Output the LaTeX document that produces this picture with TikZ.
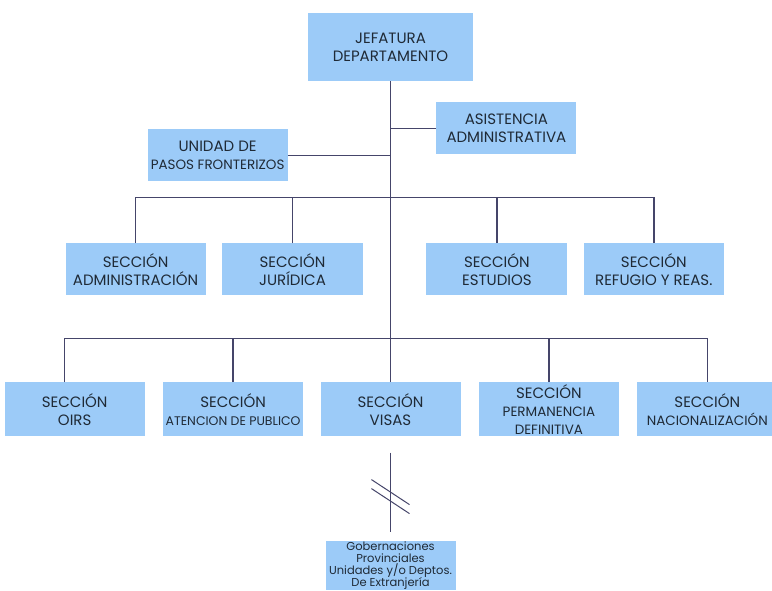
\documentclass[tikz,border=0pt]{standalone}
\usepackage{fontspec}
\setmainfont{Poppins}
\usetikzlibrary{positioning,calc}
\definecolor{boxblue}{HTML}{9CCBF8}
\definecolor{wire}{HTML}{45456A}
\definecolor{ink}{HTML}{1F2A36}
\newcommand{\lesser}[2]{{\fontsize{#1}{17}\selectfont #2}}
\tikzset{
  unit/.style={fill=boxblue, align=center, text=ink, inner sep=1pt,
               minimum width=140pt, minimum height=52pt, font=\fontsize{15}{18}\selectfont},
  link/.style={draw=wire, line width=1.4pt},
}

\begin{document}
\begin{tikzpicture}[x=1pt, y=-1pt]
    \useasboundingbox (0,0) rectangle (772,590);
    \node[unit, minimum width=165pt, minimum height=68pt] (jefe) at (390.5,47) {JEFATURA\\DEPARTAMENTO};
    \node[unit, below right=21pt and -37pt of jefe] (asis) {ASISTENCIA\\ADMINISTRATIVA};
    \node[unit, below left=48pt and 20pt of jefe] (unidad) {UNIDAD DE\\\lesser{13.5}{PASOS FRONTERIZOS}};

    \node[unit, below left=162pt and 102pt of jefe] (admin) {SECCIÓN\\ADMINISTRACIÓN};
    \node[unit, right=16pt of admin, minimum width=141pt] (jur) {SECCIÓN\\JURÍDICA};
    \node[unit, right=63pt of jur, minimum width=141pt] (est) {SECCIÓN\\ESTUDIOS};
    \node[unit, right=16pt of est] (ref) {SECCIÓN\\REFUGIO Y REAS.};

    \node[unit, below=301pt of jefe, minimum height=54pt] (visas) {SECCIÓN\\VISAS};
    \node[unit, left=17pt of visas, minimum height=54pt] (atencion) {SECCIÓN\\\lesser{12.5}{ATENCION DE PUBLICO}};
    \node[unit, left=18pt of atencion, minimum height=54pt] (oirs) {SECCIÓN\\OIRS};
    \node[unit, right=18pt of visas, minimum height=54pt] (perm) {SECCIÓN\\\lesser{13.5}{PERMANENCIA}\\\lesser{13.5}{DEFINITIVA}};
    \node[unit, right=18pt of perm, minimum height=54pt] (nac) {SECCIÓN\\\lesser{13.5}{NACIONALIZACIÓN}};

    \node[unit, below=104pt of visas, minimum width=130pt, minimum height=0pt, inner sep=0.5pt,
          font=\fontsize{11.5}{12}\selectfont] (gob) {Gobernaciones\\Provinciales\\Unidades y/o Deptos.\\De Extranjería};

    \coordinate[below=116pt of jefe.south] (bus1);
    \coordinate[below=257pt of jefe.south] (bus2);

    \draw[link] (jefe.south) -- (bus2);
    \draw[link] (asis.west) -- (asis.west -| jefe.south);
    \draw[link] (unidad.east) -- (unidad.east -| jefe.south);
    \draw[link] (admin.north) |- (bus1) -| (ref.north);
    \draw[link] (jur.north) -- (jur.north |- bus1);
    \draw[link] (est.north) -- (est.north |- bus1);
    \draw[link] ([xshift=-10pt]oirs.north) |- (bus2) -| (nac.north);
    \draw[link] (atencion.north) -- (atencion.north |- bus2);
    \draw[link] (visas.north) -- (bus2);
    \draw[link] (perm.north) -- (perm.north |- bus2);

    % broken link down to the provincial offices
    \coordinate (brk) at ($(visas.south)!0.5!(gob.north)$);
    \draw[link] ([yshift=-16pt]visas.south) -- ([yshift=9pt]gob.north);
    \draw[link, line width=1pt] ($(brk)+(-19,-9)$) -- ($(brk)+(19,16)$);
    \draw[link, line width=1pt] ($(brk)+(-19,0)$) -- ($(brk)+(19,25)$);
  \end{tikzpicture}
\end{document}
